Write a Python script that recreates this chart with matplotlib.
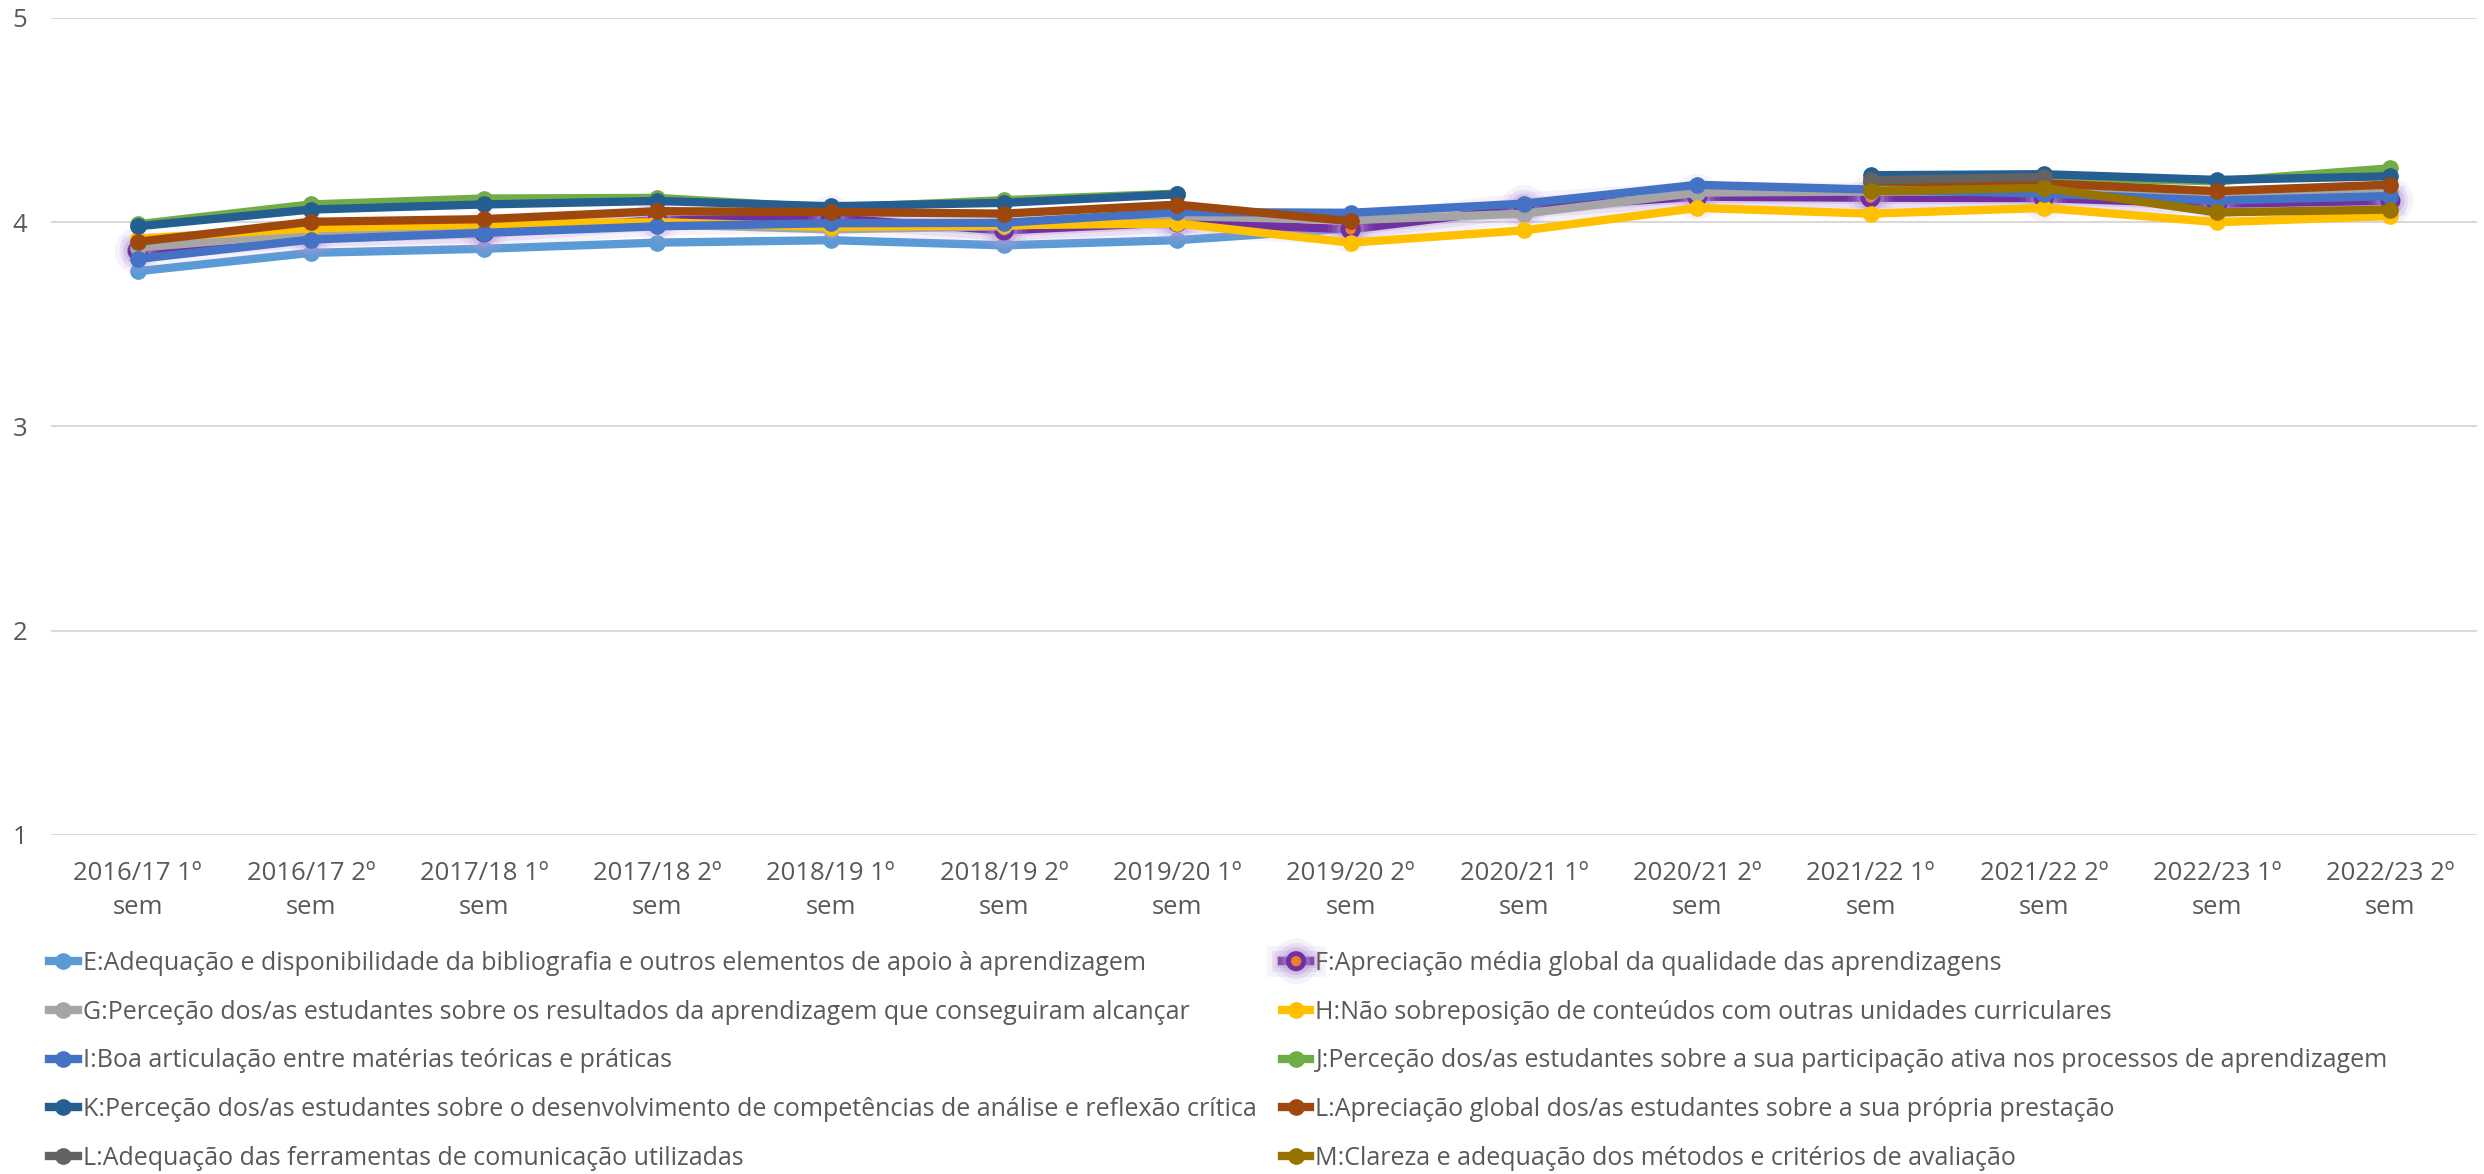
import numpy as np
import matplotlib
matplotlib.use("Agg")
import matplotlib.pyplot as plt
import matplotlib.patheffects as pe

plt.rcParams['font.family'] = ['Open Sans', 'DejaVu Sans']

nan = np.nan

cats = ["2016/17 1º\nsem", "2016/17 2º\nsem", "2017/18 1º\nsem", "2017/18 2º\nsem",
        "2018/19 1º\nsem", "2018/19 2º\nsem", "2019/20 1º\nsem", "2019/20 2º\nsem",
        "2020/21 1º\nsem", "2020/21 2º\nsem", "2021/22 1º\nsem", "2021/22 2º\nsem",
        "2022/23 1º\nsem", "2022/23 2º\nsem"]

# values (gaps = no data)
E = [3.76, 3.85, 3.87, 3.90, 3.912, 3.887, 3.912, 3.97, nan, nan, nan, nan, nan, nan]
F = [3.86, 3.93, 3.95, 4.01, 4.02, 3.96, 4.00, 3.965, 4.07, 4.125, 4.12, 4.118, 4.09, 4.105]
G = [3.875, 3.945, 3.96, 3.99, 3.965, 3.98, 4.03, 4.01, 4.042, 4.145, 4.15, 4.15, 4.13, 4.155]
H = [3.92, 3.97, 3.99, 4.00, 3.977, 3.985, 3.994, 3.90, 3.96, 4.07, 4.042, 4.07, 4.00, 4.03]
I = [3.82, 3.915, 3.948, 3.98, 3.995, 3.997, 4.05, 4.046, 4.091, 4.183, 4.16, 4.14, 4.106, 4.128]
J = [3.99, 4.087, 4.116, 4.119, 4.07, 4.108, 4.14, nan, nan, nan, 4.19, 4.22, 4.20, 4.264]
K = [3.98, 4.062, 4.087, 4.104, 4.078, 4.095, 4.137, nan, nan, nan, 4.23, 4.235, 4.207, 4.225]
L = [3.904, 4.002, 4.015, 4.054, 4.05, 4.042, 4.086, 4.005, nan, nan, 4.20, 4.19, 4.152, 4.184]
L2 = [nan, nan, nan, nan, nan, nan, nan, nan, nan, nan, 4.205, 4.222, nan, nan]
M = [nan, nan, nan, nan, nan, nan, nan, nan, nan, nan, 4.152, 4.168, 4.048, 4.062]

labels = [
    "E:Adequação e disponibilidade da bibliografia e outros elementos de apoio à aprendizagem",
    "F:Apreciação média global da qualidade das aprendizagens",
    "G:Perceção dos/as estudantes sobre os resultados da aprendizagem que conseguiram alcançar",
    "H:Não sobreposição de conteúdos com outras unidades curriculares",
    "I:Boa articulação entre matérias teóricas e práticas",
    "J:Perceção dos/as estudantes sobre a sua participação ativa nos processos de aprendizagem",
    "K:Perceção dos/as estudantes sobre o desenvolvimento de competências de análise e reflexão crítica",
    "L:Apreciação global dos/as estudantes sobre a sua própria prestação",
    "L:Adequação das ferramentas de comunicação utilizadas",
    "M:Clareza e adequação dos métodos e critérios de avaliação",
]
series = [E, F, G, H, I, J, K, L, L2, M]
colors = ["#5B9BD5", "#7030A0", "#A5A5A5", "#FFC000", "#4472C4",
          "#70AD47", "#255E91", "#9E480E", "#636363", "#997300"]

fig = plt.figure(figsize=(24.84, 11.74), dpi=100)
ax = fig.add_axes([0.0205, 0.2888, 0.9767, 0.6959])

x = np.arange(len(cats))
handles = []
for vals, lab, col in zip(series, labels, colors):
    if lab.startswith("F:"):
        h, = ax.plot(x, vals, color=col, lw=6, marker='o', ms=11,
                     mfc="#ED7D31", mec=col, mew=3.5, label=lab, zorder=3)
        h.set_path_effects([pe.Stroke(linewidth=22, foreground="#b99ad8", alpha=0.12),
                            pe.Stroke(linewidth=15, foreground="#b99ad8", alpha=0.2),
                            pe.Stroke(linewidth=9, foreground="#b99ad8", alpha=0.35),
                            pe.Normal()])
    else:
        h, = ax.plot(x, vals, color=col, lw=6, marker='o', ms=11,
                     mfc=col, mec=col, label=lab, zorder=3)
    handles.append(h)

ax.set_xlim(-0.5, len(cats) - 0.5)
ax.set_ylim(1, 5)
ax.set_yticks([1, 2, 3, 4, 5])
ax.set_xticks(x)
ax.set_xticklabels(cats, linespacing=1.48)
ax.grid(axis='y', color="#D9D9D9", lw=1.5)
ax.set_axisbelow(True)
for s in ax.spines.values():
    s.set_visible(False)
ax.tick_params(axis='both', length=0, labelsize=18.5, colors="#595959")
ax.tick_params(axis='x', pad=19)
ax.tick_params(axis='y', pad=17)

leg_kw = dict(loc='upper left', frameon=False, fontsize=18, labelcolor="#595959",
              handlelength=1.15, handletextpad=0.2, labelspacing=0.95, borderpad=0,
              borderaxespad=0)
left = [handles[i] for i in (0, 2, 4, 6, 8)]
right = [handles[i] for i in (1, 3, 5, 7, 9)]
fig.legend(left, [h.get_label() for h in left], bbox_to_anchor=(0.0197, 0.190), **leg_kw)
fig.legend(right, [h.get_label() for h in right], bbox_to_anchor=(0.516, 0.190), **leg_kw)

fig.savefig("out.png", dpi=100)
